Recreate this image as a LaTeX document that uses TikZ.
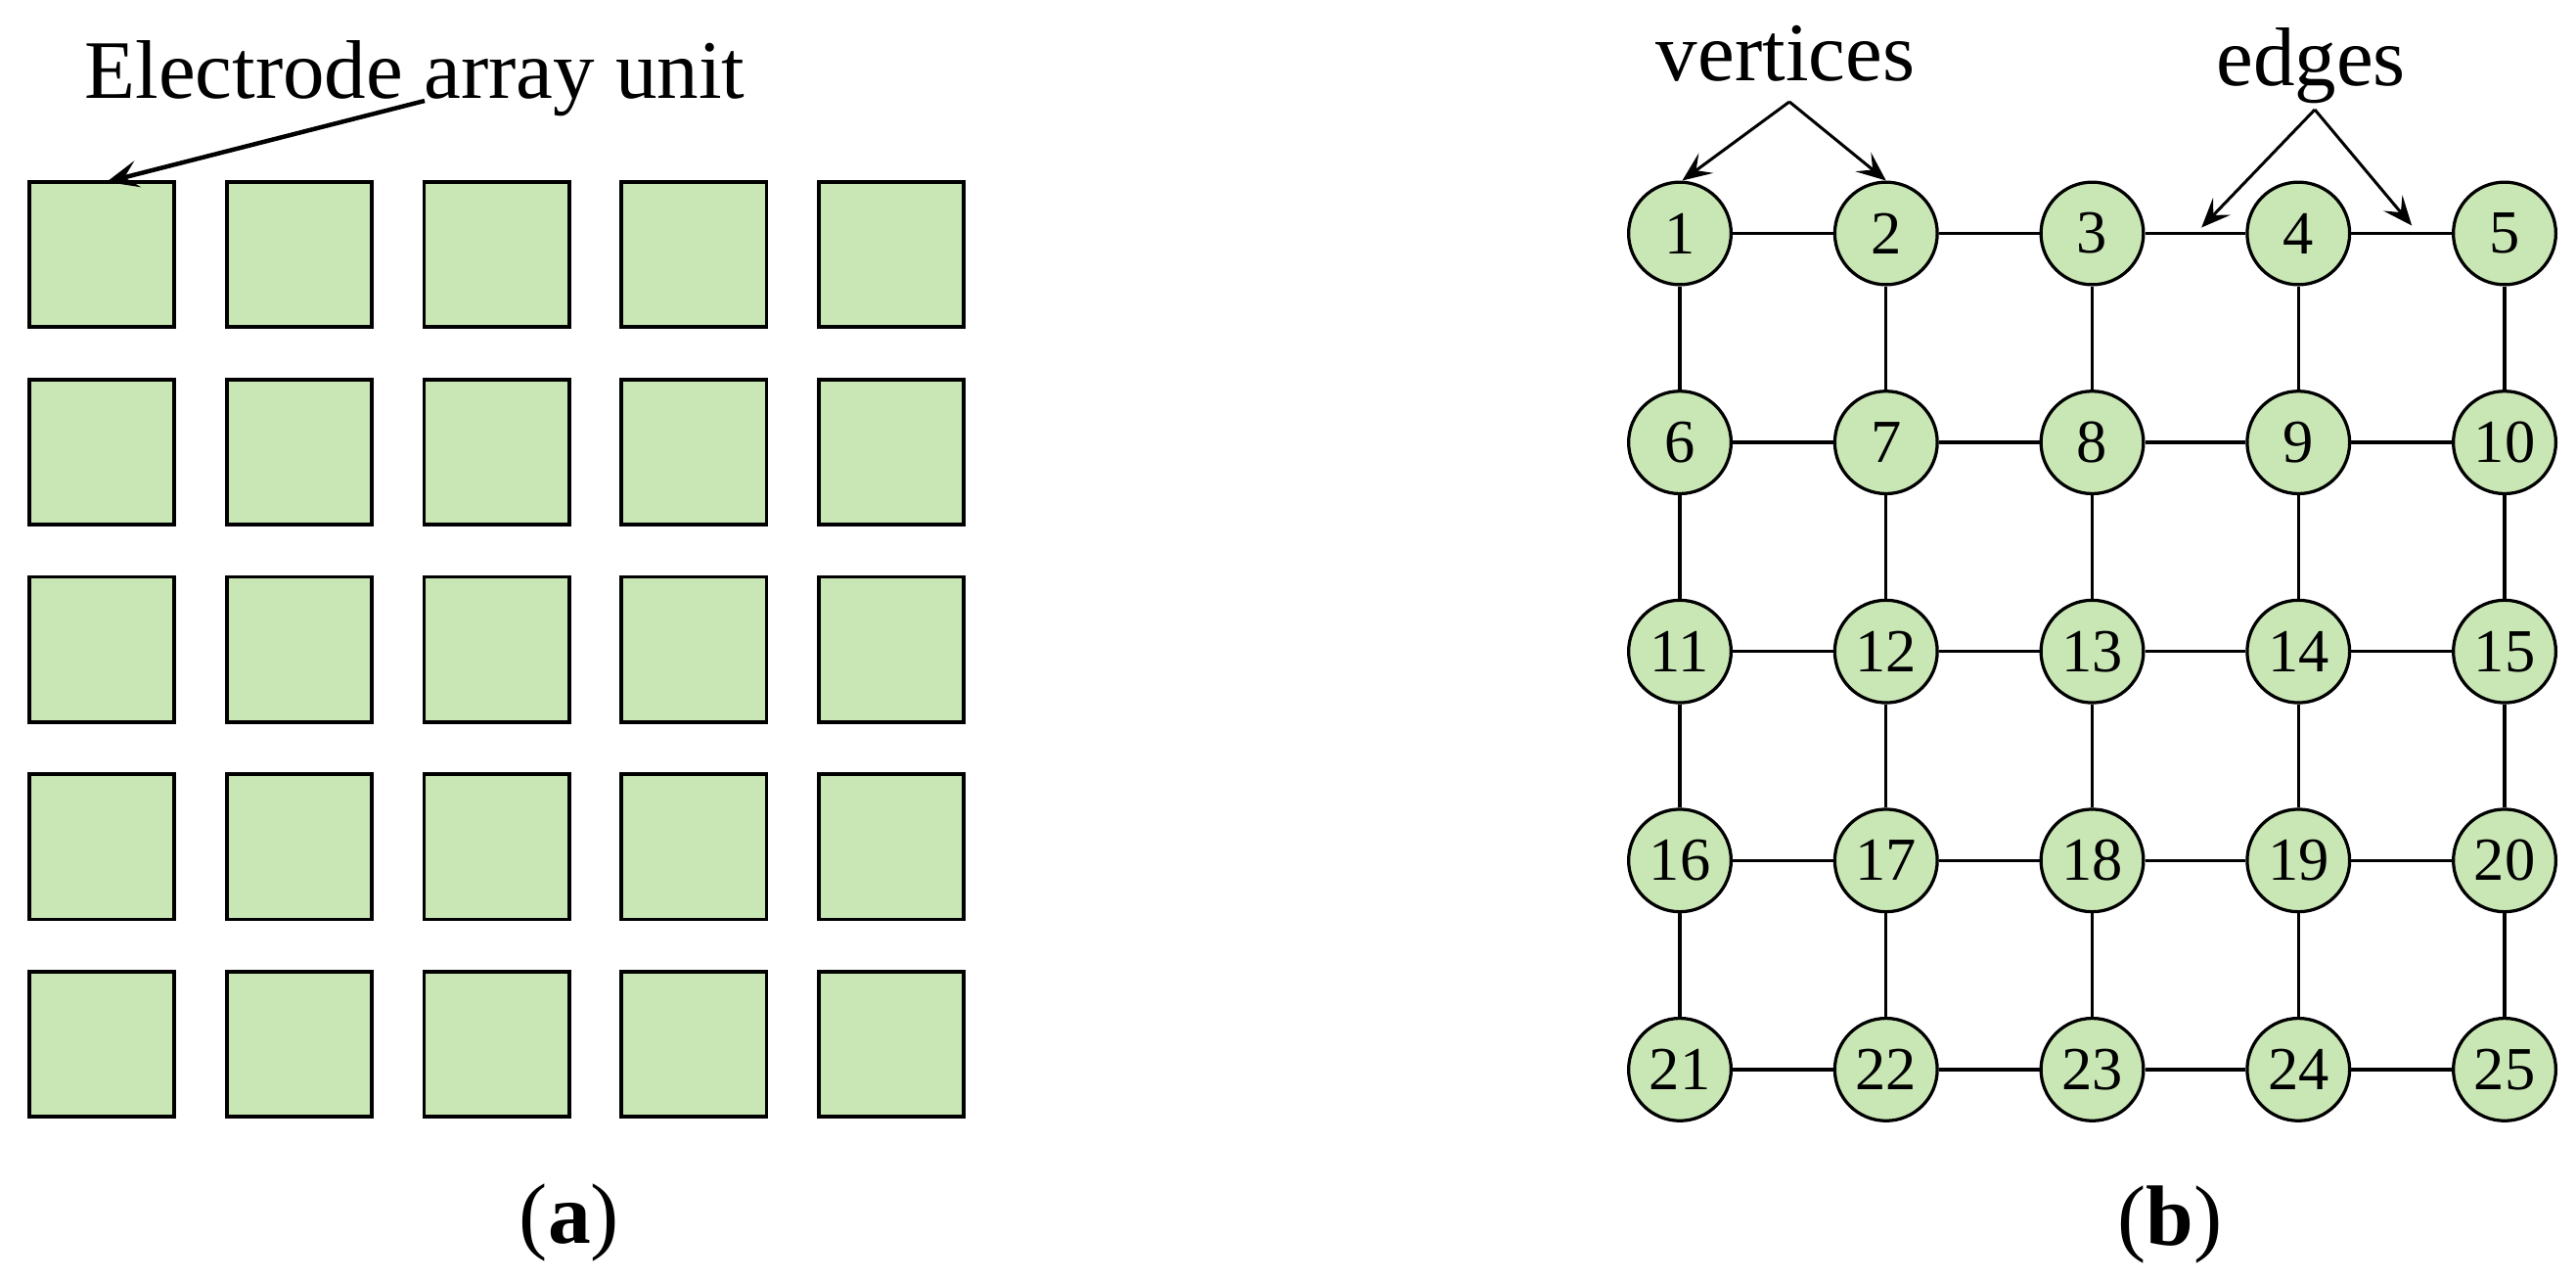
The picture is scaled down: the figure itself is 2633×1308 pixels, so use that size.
\documentclass[tikz,border=0pt]{standalone}
\usepackage{fontspec}
\setmainfont{Liberation Serif}
\usetikzlibrary{arrows.meta,calc}
\definecolor{cellgreen}{RGB}{201,230,181}
\begin{document}
\begin{tikzpicture}[x=0.4pt,y=-0.4pt,
  cell/.style={draw=black, fill=cellgreen, line width=1.5pt, minimum size=59.3pt, inner sep=0pt, outer sep=0pt},
  vert/.style={circle, draw=black, fill=cellgreen, line width=1.3pt, minimum size=41.9pt, inner sep=0pt, font=\fontsize{25}{26}\selectfont},
  gedge/.style={line width=1.3pt},
  lbl/.style={font=\fontsize{34}{38}\selectfont, inner sep=0pt},
  pointer/.style={line width=1.2pt, -{Stealth[length=12pt,width=10pt,inset=5pt]}},
  bigpointer/.style={line width=1.8pt, -{Stealth[length=13pt,width=11pt,inset=5.5pt]}},
]
\useasboundingbox (0,0) rectangle (2633,1308);

% (a) electrode array
\foreach \r in {0,...,4}{
  \foreach \c in {0,...,4}{
    \node[cell] (s\r\c) at ({104+201.75*\c},{260+201.75*\r}) {};
  }
}
\node[lbl, anchor=base west] (elab) at (86,100) {Electrode array unit};
\coordinate (etail) at (434,103);
\draw[bigpointer] (etail) -- ([xshift=2pt]s00.north);
\node[lbl, font=\fontsize{35}{38}\selectfont, anchor=base] (capa) at (582,1270) {(\textbf{a})};

% (b) graph
\foreach \r in {0,...,4}{
  \foreach \c in {0,...,4}{
    \pgfmathtruncatemacro\n{5*\r+\c+1}
    \node[vert] (v\n) at ({1717+210.75*\c},{238.5+213.6*\r}) {\n};
  }
}
\foreach \r in {0,...,4}{
  \foreach \c in {1,...,4}{
    \pgfmathtruncatemacro\a{5*\r+\c}
    \pgfmathtruncatemacro\b{5*\r+\c+1}
    \draw[gedge] (v\a) -- (v\b);
  }
}
\foreach \r in {0,...,3}{
  \foreach \c in {1,...,5}{
    \pgfmathtruncatemacro\a{5*\r+\c}
    \pgfmathtruncatemacro\b{5*\r+\c+5}
    \draw[gedge] (v\a) -- (v\b);
  }
}
\node[lbl, anchor=base] (vlab) at (1825,82) {vertices};
\coordinate (vapex) at (1829,104);
\draw[pointer] (vapex) -- ([xshift=1pt]v1.north);
\draw[pointer] (vapex) -- (v2.north);

\node[lbl, anchor=base] (elabel) at (2362,87) {edges};
\coordinate (eapex) at (2366,112);
\coordinate (e34) at ($(v3)!0.53!(v4)+(0,-6)$);
\coordinate (e45) at ($(v4)!0.55!(v5)+(0,-8)$);
\draw[pointer] (eapex) -- (e34);
\draw[pointer] (eapex) -- (e45);

\node[lbl, font=\fontsize{35}{38}\selectfont, anchor=base] (capb) at (2218,1272) {(\textbf{b})};
\end{tikzpicture}
\end{document}
